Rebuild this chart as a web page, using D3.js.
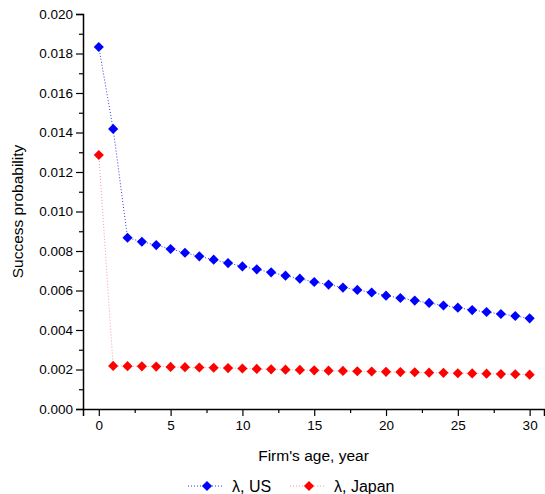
<!DOCTYPE html>
<html>
<head>
<meta charset="utf-8">
<script src="https://cdn.jsdelivr.net/npm/d3@7"></script>
<style>
  body { margin: 0; background: #fff; }
  text { font-family: "Liberation Sans", Arial, sans-serif; fill: #000; }
</style>
</head>
<body>
<svg id="chart"></svg>
<script>
// firm age, years
var ages = d3.range(0, 31);

// success probability, US
var usValues = [0.01833, 0.01418, 0.00867, 0.00847, 0.00830, 0.00810, 0.00791, 0.00773,
  0.00756, 0.00739, 0.00722, 0.00707, 0.00692, 0.00675, 0.00660, 0.00643, 0.00630,
  0.00615, 0.00603, 0.00590, 0.00574, 0.00562, 0.00549, 0.00537, 0.00524, 0.00513,
  0.00501, 0.00491, 0.00481, 0.00471, 0.00459];

// success probability, Japan
var japanValues = [0.01286, 0.00218, 0.00217, 0.00216, 0.00215, 0.00213, 0.00212, 0.00210,
  0.00209, 0.00207, 0.00205, 0.00203, 0.00201, 0.00199, 0.00198, 0.00196, 0.00194,
  0.00193, 0.00191, 0.00190, 0.00188, 0.00187, 0.00186, 0.00184, 0.00183, 0.00181,
  0.00180, 0.00179, 0.00177, 0.00176, 0.00174];

var xTicks = [0, 5, 10, 15, 20, 25, 30];
var yTicks = [0, 0.002, 0.004, 0.006, 0.008, 0.010, 0.012, 0.014, 0.016, 0.018, 0.020];

var series = [
  { name: "λ, US", values: usValues, fill: "#0000ff", line: "#3333ff" },
  { name: "λ, Japan", values: japanValues, fill: "#ff0000", line: "#ff9a9a" }
];

var width = 545, height = 494;
var svg = d3.select("#chart").attr("width", width).attr("height", height);

var xScale = d3.scaleLinear().domain([-1.1, 31]).range([83, 544]);
var yScale = d3.scaleLinear().domain([0, 0.020]).range([409, 14]);

// x axis
svg.append("g")
  .attr("transform", "translate(0," + yScale(0) + ")")
  .call(d3.axisBottom(xScale).tickValues(xTicks).tickSize(7).tickPadding(4).tickFormat(d3.format("d")));
svg.append("g")
  .attr("transform", "translate(0," + yScale(0) + ")")
  .call(d3.axisBottom(xScale).tickValues(d3.range(2.5, 31, 5)).tickSize(4).tickFormat(""))
  .select(".domain").remove();

// y axis
svg.append("g")
  .attr("transform", "translate(" + xScale.range()[0] + ",0)")
  .call(d3.axisLeft(yScale).tickValues(yTicks).tickSize(7).tickPadding(3).tickFormat(d3.format(".3f")));
svg.append("g")
  .attr("transform", "translate(" + xScale.range()[0] + ",0)")
  .call(d3.axisLeft(yScale).tickValues(d3.range(0.001, 0.020, 0.002)).tickSize(4).tickFormat(""))
  .select(".domain").remove();

svg.selectAll(".domain").attr("stroke", "#000").attr("stroke-width", 1.5);
svg.selectAll(".tick line").attr("stroke", "#000").attr("stroke-width", 1.2);
svg.selectAll(".tick text").attr("font-size", 13.5).attr("font-family", "Liberation Sans, Arial, sans-serif");

// axis titles
svg.append("text")
  .attr("x", (xScale.range()[0] + xScale.range()[1]) / 2)
  .attr("y", 461)
  .attr("text-anchor", "middle")
  .attr("font-size", 15.5)
  .text("Firm's age, year");

svg.append("text")
  .attr("transform", "translate(23," + (yScale(0.010)) + ") rotate(-90)")
  .attr("text-anchor", "middle")
  .attr("font-size", 15.5)
  .text("Success probability");

var diamond = d3.symbol().type(d3.symbolDiamond2).size(66);

var line = d3.line()
  .x((d, i) => xScale(ages[i]))
  .y(d => yScale(d));

series.forEach(function(s) {
  svg.append("path")
    .datum(s.values)
    .attr("fill", "none")
    .attr("stroke", s.line)
    .attr("stroke-width", 1)
    .attr("stroke-dasharray", "1,2")
    .attr("d", line);
});

series.forEach(function(s) {
  svg.append("g").selectAll("path")
    .data(s.values)
    .enter()
    .append("path")
      .attr("d", diamond)
      .attr("fill", s.fill)
      .attr("transform", (d, i) => "translate(" + xScale(ages[i]) + "," + yScale(d) + ")");
});

// legend
var legendPos = [188, 290];
var legend = svg.append("g")
  .selectAll("g")
  .data(series)
  .enter()
  .append("g")
    .attr("transform", (d, i) => "translate(" + legendPos[i] + ",486)");

legend.append("line")
  .attr("x1", 0).attr("x2", 36)
  .attr("y1", 0).attr("y2", 0)
  .attr("stroke", d => d.line)
  .attr("stroke-dasharray", "1,2");

legend.append("path")
  .attr("d", diamond)
  .attr("fill", d => d.fill)
  .attr("transform", "translate(19,0)");

legend.append("text")
  .attr("x", 44)
  .attr("y", 6)
  .attr("font-size", 16)
  .text(d => d.name);
</script>
</body>
</html>
